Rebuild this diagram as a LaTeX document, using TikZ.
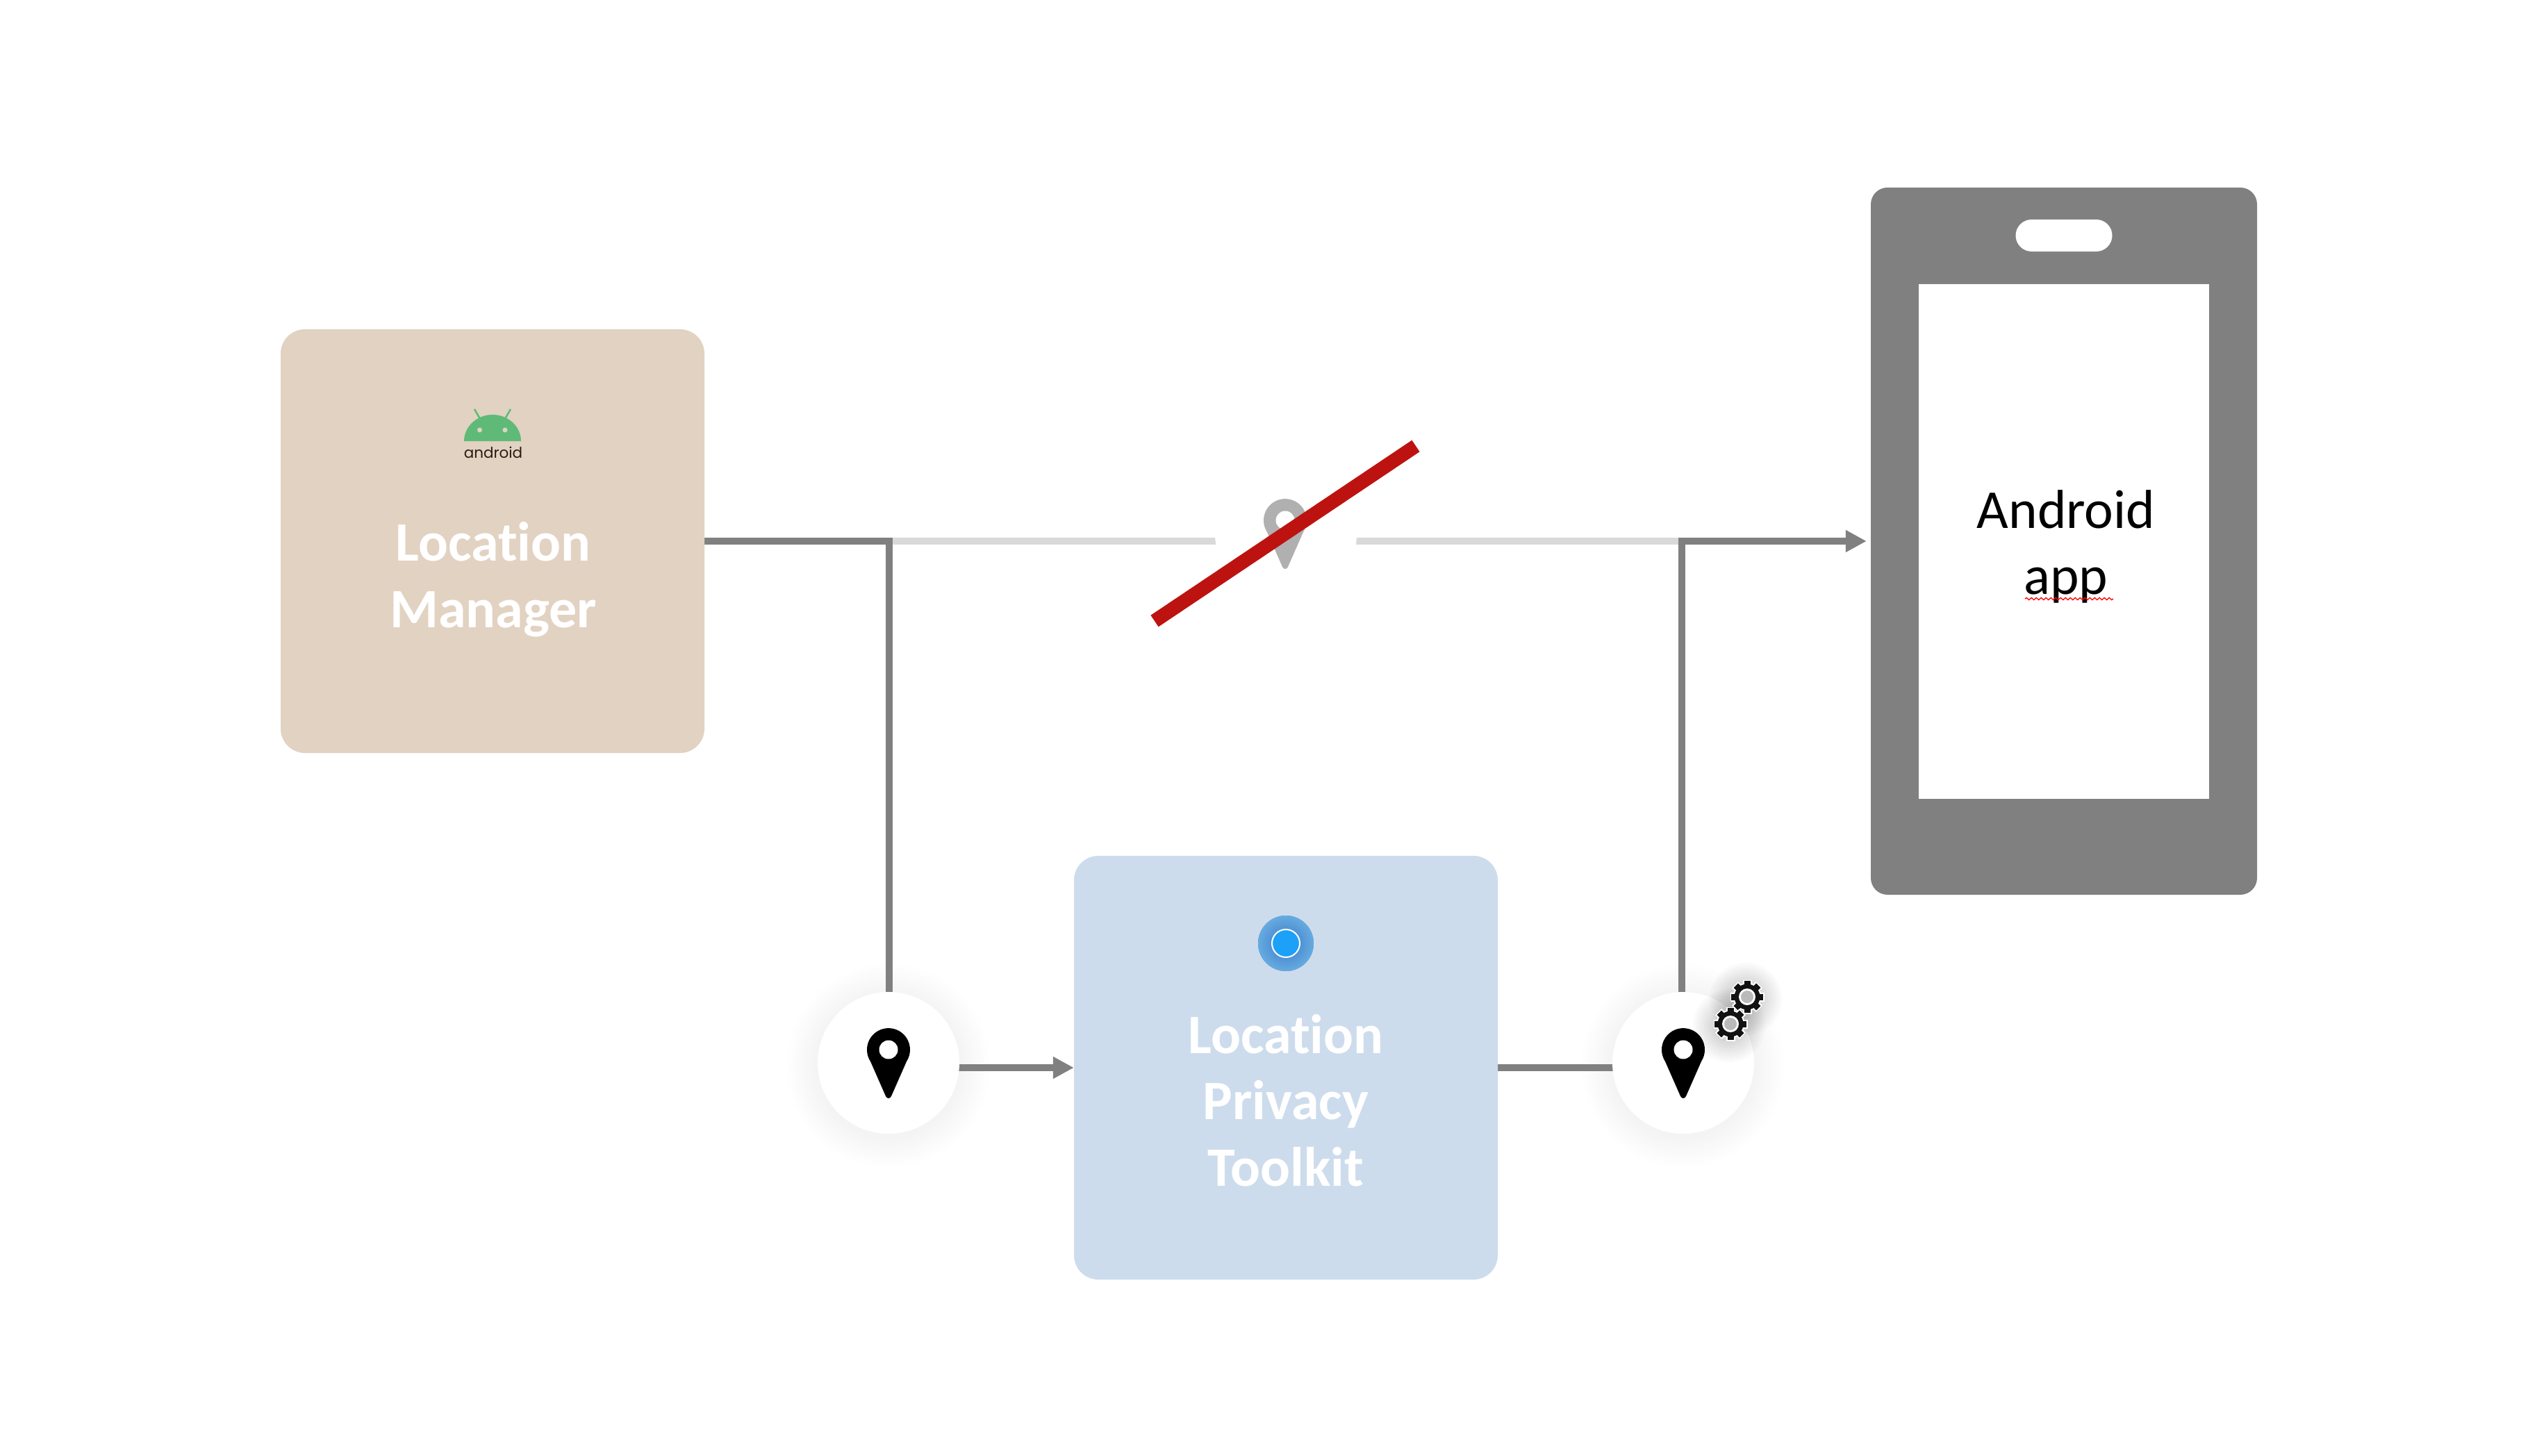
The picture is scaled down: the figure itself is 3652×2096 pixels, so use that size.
\documentclass[tikz,border=0pt]{standalone}
\usepackage{fontspec}
\setmainfont[Ligatures=NoCommon]{Carlito}
\newfontfamily\logofont{Poppins}
\usetikzlibrary{arrows.meta,backgrounds,decorations.pathmorphing}

\definecolor{lmfill}{HTML}{E2D2C2}
\definecolor{lptfill}{HTML}{CDDCEC}
\definecolor{flowgray}{HTML}{808080}
\definecolor{fadegray}{HTML}{D9D9D9}
\definecolor{pingray}{HTML}{B0B0B0}
\definecolor{strikered}{HTML}{BD1310}
\definecolor{robotgreen}{HTML}{5FBA78}
\definecolor{logotext}{HTML}{2B1B12}
\definecolor{dotcore}{HTML}{1DA1F8}
\definecolor{dotinner}{HTML}{3A78C8}
\definecolor{dotouter}{HTML}{66ABE0}

\tikzset{
    infobox/.style = {rectangle, rounded corners=35pt, minimum size=610pt, inner sep=0pt},
    pincircle/.style = {circle, fill=white, minimum size=204pt, inner sep=0pt},
    boxlabel/.style = {text=white, align=center, font=\fontsize{80}{95.5}\selectfont\bfseries},
    flow/.style = {draw=flowgray, line width=10pt},
    fadeflow/.style = {draw=fadegray, line width=10pt},
    tip/.style = {-{Triangle[length=30pt,width=30pt]}},
    locpin/.pic = {
        \path[pic actions] (-26,17) arc (147:393:31) -- (4,67)
            .. controls (2,71) and (-2,71) .. (-4,67) -- cycle;
        \fill[white] (0,0) circle (13.5);
    },
    gearmark/.pic = {
        \foreach \a in {0,45,...,315} \fill[white, rotate=\a] (-6.5,-24.5) rectangle (6.5,-14);
        \fill[white] (0,0) circle (20.5);
        \foreach \a in {0,45,...,315} \fill[black!93, rotate=\a] (-4.5,-23) rectangle (4.5,-14);
        \fill[black!93] (0,0) circle (18.5);
        \fill[white] (0,0) circle (12);
        \fill[black!27] (0,0) circle (9);
    },
}

\begin{document}
\begin{tikzpicture}[x=1pt, y=-1pt]
    \useasboundingbox (0,0) rectangle (3652,2096);

    % Boxes
    \node[infobox, fill=lmfill] (lm) at (709,779) {};
    \node[infobox, fill=lptfill] (lpt) at (1851,1537) {};
    \node[boxlabel] (lmlabel) at (710,834) {Location\\Manager};
    \node[boxlabel] (lptlabel) at (1851,1584) {Location\\Privacy\\Toolkit};

    % Android logo
    \fill[robotgreen] (668,635) arc (180:360:41 and 38) -- cycle;
    \draw[robotgreen, line width=2.5pt] (690.5,602) -- (683,589) (727.5,602) -- (735,589);
    \fill[lmfill] (690.5,619) circle (3.5) (727,619) circle (3.5);
    \node[text=logotext, inner sep=0pt, anchor=base, font=\fontsize{21.5}{25}\logofont] (logotext) at (710,659.5) {android};

    % Blue dot
    \fill[dotinner] (1851,1358) circle (40);
    \shade[inner color=dotinner, outer color=dotouter] (1851,1358) circle (40);
    \node[circle, fill=dotcore, draw=white, line width=2pt, minimum size=40pt, inner sep=0pt] (bluedot) at (1851,1358) {};

    % Phone
    \node[rectangle, fill=flowgray, rounded corners=24pt, minimum width=556pt, minimum height=1018pt] (phone) at (2971,779) {};
    \node[rectangle, fill=white, minimum width=418pt, minimum height=741pt] (screen) at (2971,779.5) {};
    \node[rectangle, fill=white, rounded corners=23pt, minimum width=139pt, minimum height=46pt] (notch) at (2971,339) {};
    \node[align=center, font=\fontsize{79}{95}\selectfont] (applabel) at (2974,787) {Android\\app};
    \coordinate (squigleft) at (2915,862);
    \coordinate (squigright) at (3042,862);
    \draw[red, line width=1.3pt, decorate, decoration={snake, segment length=7pt, amplitude=1.6pt}] (squigleft) -- (squigright);

    % Pin circles
    \node[pincircle] (pinin) at (1279,1530) {};
    \node[pincircle] (pinoff) at (1851,768) {};
    \node[pincircle] (pinout) at (2423,1530) {};
    \coordinate (splitleft) at (1280,779);
    \coordinate (joinright) at (2421,779);

    \begin{scope}[on background layer]
        \fill[white] (0,0) rectangle (3652,2096);

        % Shadows
        \foreach \g in {4,8,...,44} {
            \fill[black, opacity=.004] (pinin) ++(0,4) circle ({102+\g});
            \fill[black, opacity=.004] (pinout) ++(0,4) circle ({102+\g});
            \fill[black, opacity=.001] (pinoff) circle ({102+\g});
        }
        \foreach \g in {6,12,...,30} {
            \fill[black, opacity=.0015, rounded corners=40pt] ([shift={(-\g pt,\g pt)}]lm.north west) rectangle ([shift={(\g pt,-\g pt)}]lm.south east);
        }

        % Connectors
        \draw[fadeflow] (splitleft) -- (pinoff.center |- splitleft) -- (joinright);
        \draw[flow] (lm.east) -- (splitleft) -- (splitleft |- pinin.center);
        \draw[flow, tip] (pinin.center |- lpt.west) -- (lpt.west);
        \draw[flow] (lpt.east) -- (pinout.center |- lpt.east);
        \draw[flow, tip, shorten >=6pt] (joinright |- pinout.center) -- (joinright) -- (phone.west);
    \end{scope}

    % Pins
    \path (pinin) ++(0,-19) pic[fill=black] {locpin};
    \path (pinout) ++(0,-19) pic[fill=black] {locpin};
    \path (pinoff) ++(-1,-19) pic[fill=pingray] {locpin};

    % Gears
    \foreach \g in {4,8,...,32} {
        \fill[black, opacity=.018] (2515,1435) ++(-2,3) circle ({20+\g});
        \fill[black, opacity=.018] (2491,1474) ++(-2,3) circle ({20+\g});
    }
    \pic at (2515,1435) {gearmark};
    \pic at (2491,1474) {gearmark};

    % Strike
    \coordinate (strikeleft) at (1662,894);
    \coordinate (strikeright) at (2038,642);
    \draw[strikered, line width=20pt] (strikeleft) -- (strikeright);
\end{tikzpicture}
\end{document}
